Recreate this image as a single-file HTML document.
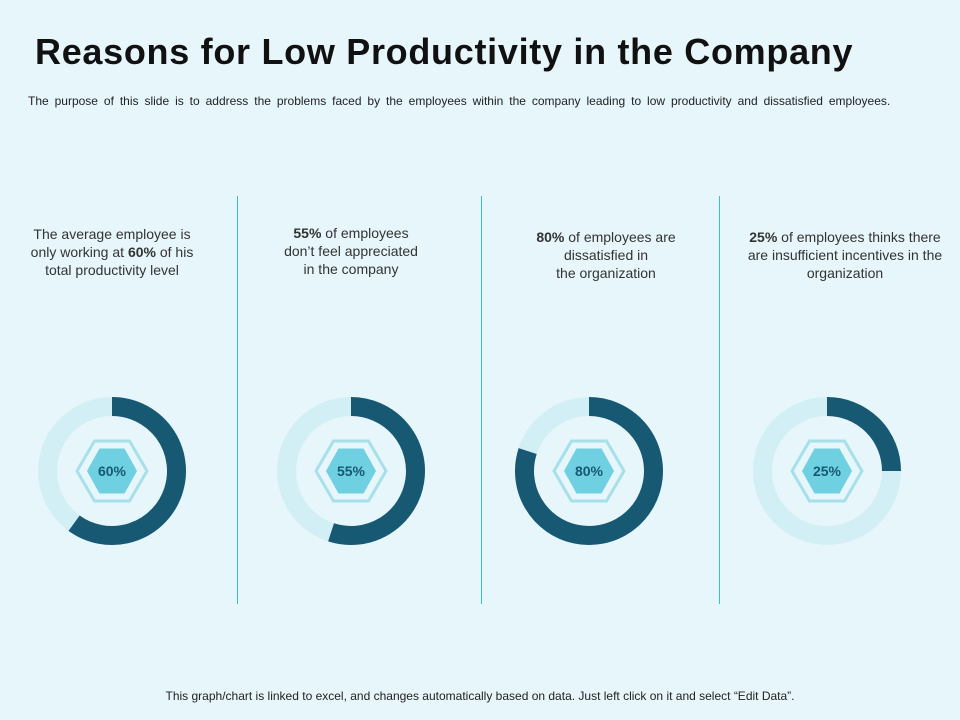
<!DOCTYPE html>
<html><head><meta charset="utf-8"><style>
body{margin:0;width:960px;height:720px;background:#e6f6fa;font-family:"Liberation Sans",sans-serif;position:relative;overflow:hidden;color:#222}
.t{position:absolute;left:35px;top:31px;font-size:36px;font-weight:bold;color:#111;margin:0;letter-spacing:0.7px;white-space:nowrap}
.sub{position:absolute;left:28px;top:94px;font-size:12px;color:#222;word-spacing:2.6px;white-space:nowrap}
.sep{position:absolute;top:196px;width:1px;height:408px;background:#3fbccb}
.d{position:absolute;text-align:center;font-size:14px;line-height:18px;color:#333}
.foot{position:absolute;left:0;width:960px;top:689px;text-align:center;font-size:12px;color:#222}
</style></head><body>
<h1 class="t">Reasons for Low Productivity in the Company</h1>
<div class="sub">The purpose of this slide is to address the problems faced by the employees within the company leading to low productivity and dissatisfied employees.</div>
<div class="sep" style="left:237px"></div>
<div class="sep" style="left:481px"></div>
<div class="sep" style="left:719px"></div>
<div class="d" style="left:22px;top:225px;width:180px">The average employee is only working at <b>60%</b> of his total productivity level</div>
<div class="d" style="left:246px;top:224px;width:210px"><b>55%</b> of employees<br>don’t feel appreciated<br>in the company</div>
<div class="d" style="left:501px;top:228px;width:210px"><b>80%</b> of employees are<br>dissatisfied in<br>the organization</div>
<div class="d" style="left:737px;top:228px;width:216px"><b>25%</b> of employees thinks there<br>are insufficient incentives in the<br>organization</div>
<svg id="c" width="960" height="720" style="position:absolute;left:0;top:0"></svg>
<div class="foot">This graph/chart is linked to excel, and changes automatically based on data. Just left click on it and select “Edit Data”.</div>
<script>
const categories=["Working productivity","Not appreciated","Dissatisfied","Insufficient incentives"];
const values=[60,55,80,25];
const labels=["60%","55%","80%","25%"];
const svg=document.getElementById('c');
const NS='http://www.w3.org/2000/svg';
const cxs=[112,351,589,827], cy=471, r=64.5, sw=19;
function mk(t,a){const e=document.createElementNS(NS,t);for(const k in a)e.setAttribute(k,a[k]);svg.appendChild(e);return e;}
function hex(cx,cy,w,h){const q=w/4;return [[cx-w/2,cy],[cx-w/2+q,cy-h/2],[cx+w/2-q,cy-h/2],[cx+w/2,cy],[cx+w/2-q,cy+h/2],[cx-w/2+q,cy+h/2]].map(p=>p.join(',')).join(' ');}
values.forEach((v,i)=>{
  const cx=cxs[i];
  const bg=mk('circle',{cx:cx,cy:cy,r:r,fill:'none',stroke:'#d3eff6','stroke-width':sw});
  
  
  const a=v/100*2*Math.PI;
  const x=cx+r*Math.sin(a), y=cy-r*Math.cos(a);
  const arc=mk('path',{d:`M${cx},${cy-r} A${r},${r} 0 ${v>50?1:0} 1 ${x},${y}`,fill:'none',stroke:'#175873','stroke-width':sw});
  
  
  const h1=mk('polygon',{points:hex(cx,cy,70,60),fill:'none',stroke:'#a8e0ea','stroke-width':3});
  
  
  const h2=mk('polygon',{points:hex(cx,cy,50,45),fill:'#6fd0e2'});
  
  
  const t=mk('text',{x:cx,y:cy+5,'text-anchor':'middle','font-size':14,'font-weight':'bold',fill:'#175873','font-family':'Liberation Sans, sans-serif'});
  t.textContent=labels[i];
  
  
});
</script>
</body></html>
